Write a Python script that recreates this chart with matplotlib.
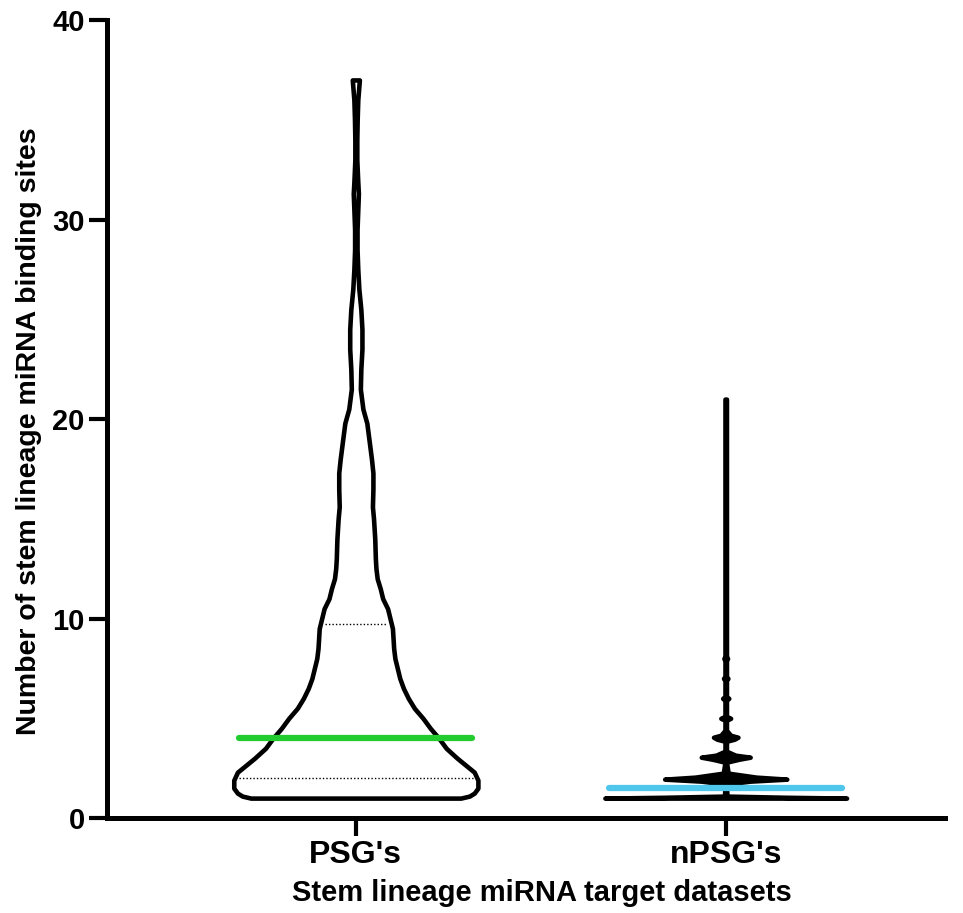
import numpy as np
import matplotlib
matplotlib.use('Agg')
import matplotlib.pyplot as plt

plt.rcParams['font.family'] = ['Liberation Sans', 'DejaVu Sans']
plt.rcParams['font.weight'] = 'bold'

# ---- data ----
groups = ["PSG's", "nPSG's"]

# violin outline: value levels and relative half-width (1 = widest)
psg_levels = [1.0, 1.1, 1.25, 1.5, 1.9, 2.3, 2.7, 3.0, 3.5, 4.0, 4.5, 5.0, 5.5,
              6.0, 6.5, 7.0, 7.5, 8.0, 8.5, 9.0, 9.5, 10.0, 10.5, 11.0, 11.5,
              12.0, 12.5, 13.0, 14.0, 15.0, 15.6, 16.5, 17.3, 18.0, 19.0, 19.8,
              20.5, 21.5, 22.5, 23.5, 24.5, 25.5, 26.5, 27.5, 28.5, 29.5, 30.5,
              31.3, 32.0, 33.0, 34.0, 35.0, 36.0, 37.0]
psg_width = [0.86, 0.93, 0.97, 1.0, 1.0, 0.97, 0.89, 0.83, 0.74, 0.68, 0.61,
             0.55, 0.48, 0.43, 0.39, 0.36, 0.34, 0.32, 0.31, 0.305, 0.30, 0.28,
             0.26, 0.22, 0.20, 0.175, 0.165, 0.16, 0.155, 0.145, 0.136, 0.14,
             0.14, 0.128, 0.107, 0.09, 0.058, 0.037, 0.041, 0.05, 0.05, 0.041,
             0.025, 0.016, 0.01, 0.01, 0.016, 0.021, 0.015, 0.008, 0.008, 0.011,
             0.016, 0.029]

npsg_levels = [1.0, 1.04, 1.1, 1.7, 1.85, 1.95, 2.05, 2.25, 2.8, 2.95, 3.05,
               3.15, 3.35, 3.85, 3.95, 4.05, 4.15, 4.4, 4.9, 5.0, 5.1, 5.9,
               6.0, 6.1, 6.9, 7.0, 7.1, 7.9, 8.0, 8.1, 21.0]
npsg_width = [0.99, 0.5, 0.01, 0.006, 0.2, 0.5, 0.25, 0.02, 0.006, 0.11, 0.2,
              0.08, 0.006, 0.006, 0.07, 0.1, 0.04, 0.006, 0.006, 0.04, 0.006,
              0.006, 0.025, 0.006, 0.006, 0.018, 0.006, 0.006, 0.015, 0.006,
              0.006]

medians = [4.0, 1.5]
psg_quartiles = [2.0, 9.75]

median_colors = ['#22CC2E', '#4FC6EC']
violin_faces = ['white', 'black']

# ---- figure ----
fig = plt.figure(figsize=(9.63, 9.13), dpi=100)
ax = fig.add_axes([0.111, 0.104, 0.870, 0.874])

half = 0.33
lw = 3.3
profiles = [(psg_levels, psg_width), (npsg_levels, npsg_width)]
for i, (lev, wid) in enumerate(profiles):
    c = i + 1
    lev = np.array(lev)
    w = np.array(wid) * half
    ax.fill_betweenx(lev, c - w, c + w, facecolor=violin_faces[i],
                     edgecolor='black', linewidth=lw, joinstyle='round',
                     zorder=2)

# quartile lines (dotted) for PSG's
for q in psg_quartiles:
    w = np.interp(q, psg_levels, psg_width) * half - 0.012
    ax.plot([1 - w, 1 + w], [q, q], color='black', linestyle=(0, (1, 1.5)),
            linewidth=1.0, zorder=3)

# medians
for i, m in enumerate(medians):
    c = i + 1
    ax.plot([c - 0.315, c + 0.315], [m, m], color=median_colors[i],
            linewidth=4.5, solid_capstyle='round', zorder=4)

ax.set_xlim(0.327, 2.592)
ax.set_ylim(0, 40)
ax.set_yticks([0, 10, 20, 30, 40])
ax.set_xticks([1, 2])
ax.set_xticklabels(groups)

for s in ['top', 'right']:
    ax.spines[s].set_visible(False)
for s in ['left', 'bottom']:
    ax.spines[s].set_linewidth(3.6)
    ax.spines[s].set_capstyle('projecting')

ax.tick_params(axis='both', width=3, length=13, pad=3)
ax.tick_params(axis='y', labelsize=21)
ax.tick_params(axis='x', labelsize=23)
for lab in ax.get_xticklabels() + ax.get_yticklabels():
    lab.set_fontweight('bold')

ax.set_xlabel('Stem lineage miRNA target datasets', fontsize=21,
              fontweight='bold')
ax.set_ylabel('Number of stem lineage miRNA binding sites', fontsize=20.5,
              fontweight='bold')
ax.xaxis.set_label_coords(0.519, -0.077)
ax.yaxis.set_label_coords(-0.078, 0.485)

plt.savefig('out.png', dpi=100, facecolor='white')
plt.close()
